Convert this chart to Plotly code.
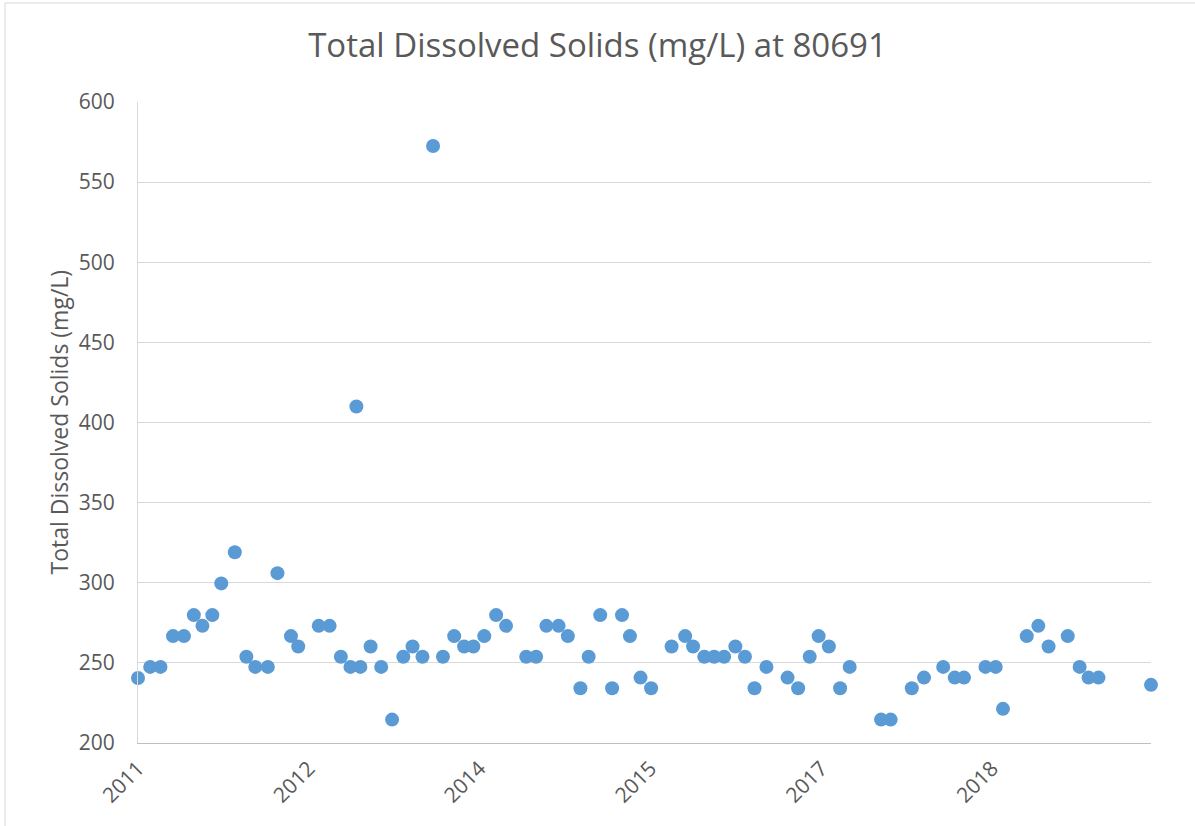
import plotly.graph_objects as go

# Sample dates and Total Dissolved Solids values (mg/L)
dates = [
    "2011-06-01", "2011-07-08", "2011-08-08", "2011-09-15", "2011-10-18", "2011-11-17",
    "2011-12-13", "2012-01-12", "2012-02-08", "2012-03-20", "2012-04-24", "2012-05-21",
    "2012-06-28", "2012-07-27", "2012-09-06", "2012-09-28", "2012-11-29", "2013-01-01",
    "2013-02-04", "2013-03-05", "2013-03-23", "2013-04-04", "2013-05-05", "2013-06-06",
    "2013-07-09", "2013-08-12", "2013-09-09", "2013-10-09", "2013-11-10", "2013-12-10",
    "2014-01-13", "2014-02-12", "2014-03-12", "2014-04-14", "2014-05-20", "2014-06-19",
    "2014-08-19", "2014-09-18", "2014-10-19", "2014-11-25", "2014-12-23", "2015-01-30",
    "2015-02-24", "2015-03-31", "2015-05-06", "2015-06-05", "2015-06-29", "2015-07-31",
    "2015-09-01", "2015-11-02", "2015-12-13", "2016-01-06", "2016-02-09", "2016-03-10",
    "2016-04-09", "2016-05-13", "2016-06-11", "2016-07-10", "2016-08-15", "2016-10-18",
    "2016-11-19", "2016-12-24", "2017-01-20", "2017-02-20", "2017-03-26", "2017-04-24",
    "2017-07-28", "2017-08-26", "2017-10-29", "2017-12-05", "2018-02-01", "2018-03-08",
    "2018-04-05", "2018-06-09", "2018-07-10", "2018-08-01", "2018-10-12", "2018-11-16",
    "2018-12-17", "2019-02-13", "2019-03-21", "2019-04-17", "2019-05-17", "2019-10-23",
]
tds = [
    240.6, 247.5, 247.5, 266.7, 266.7, 279.8,
    273.1, 279.8, 299.6, 319.0, 253.8, 247.5,
    247.5, 306.0, 266.7, 260.2, 273.1, 273.1,
    253.8, 247.5, 410.0, 247.5, 260.2, 247.5,
    214.6, 253.8, 260.2, 253.8, 572.5, 253.8,
    266.7, 260.2, 260.2, 266.7, 279.8, 273.1,
    253.8, 253.8, 273.1, 273.1, 266.7, 234.2,
    253.8, 279.8, 234.2, 279.8, 266.7, 240.8,
    234.2, 260.2, 266.7, 260.2, 253.8, 253.8,
    253.8, 260.2, 253.8, 234.2, 247.5, 240.8,
    234.2, 253.8, 266.7, 260.2, 234.2, 247.5,
    214.6, 214.6, 234.2, 240.8, 247.5, 240.8,
    240.8, 247.5, 247.5, 221.3, 266.7, 273.1,
    260.2, 266.7, 247.5, 240.8, 240.8, 236.3,
]

title_text = "Total Dissolved Solids (mg/L) at 80691"
y_title = "Total Dissolved Solids (mg/L)"
x_range = ["2011-06-01", "2019-10-23"]
x_tick0 = "2011-06-01"
x_dtick_days = 517

FONT = "Open Sans, Noto Sans, DejaVu Sans, sans-serif"
GREY = "#595959"

fig = go.Figure(
    go.Scatter(
        x=dates, y=tds, mode="markers",
        marker=dict(color="#5B9BD5", size=14, line=dict(width=0)),
        cliponaxis=False, showlegend=False,
    )
)

fig.update_layout(
    width=1195, height=826,
    margin=dict(l=138, r=44, t=102, b=83),
    paper_bgcolor="white", plot_bgcolor="white",
    font=dict(family=FONT, color=GREY),
    title=dict(
        text=title_text, x=0.5, xref="container", xanchor="center",
        y=1 - 45 / 826, yref="container", yanchor="middle",
        font=dict(size=33, color=GREY, family=FONT),
    ),
    annotations=[
        dict(
            text=y_title, textangle=-90, xref="paper", yref="paper",
            x=(58 - 138) / 1013, y=0.5, xanchor="center", yanchor="middle",
            showarrow=False, font=dict(size=23, color=GREY, family=FONT),
        )
    ],
    shapes=[
        dict(type="line", xref="paper", yref="paper",
             x0=(5 - 138) / 1013, x1=(1195 - 138) / 1013,
             y0=(743 - 3) / 641, y1=(743 - 3) / 641,
             line=dict(color="#D9D9D9", width=1)),
        dict(type="line", xref="paper", yref="paper",
             x0=(5 - 138) / 1013, x1=(5 - 138) / 1013,
             y0=(743 - 3) / 641, y1=(743 - 826) / 641,
             line=dict(color="#D9D9D9", width=1)),
    ],
)

fig.update_xaxes(
    type="date", range=x_range,
    tick0=x_tick0, dtick=x_dtick_days * 86400000, tickformat="%Y",
    tickangle=-45, tickfont=dict(size=21, color=GREY, family=FONT),
    showgrid=False, zeroline=False,
    showline=True, linecolor="#BFBFBF", linewidth=1,
    ticks="", ticklabelstandoff=4,
)
fig.update_yaxes(
    range=[200, 600], dtick=50, tick0=200,
    tickfont=dict(size=21, color=GREY, family=FONT),
    showgrid=True, gridcolor="#D9D9D9", gridwidth=1,
    zeroline=False, showline=True, linecolor="#D9D9D9", linewidth=1,
    ticks="", ticklabelstandoff=18,
)

fig.write_html(
    "out.html",
    config={"displayModeBar": False},
    post_script="document.body.style.margin='0';document.body.style.overflow='hidden';",
)
